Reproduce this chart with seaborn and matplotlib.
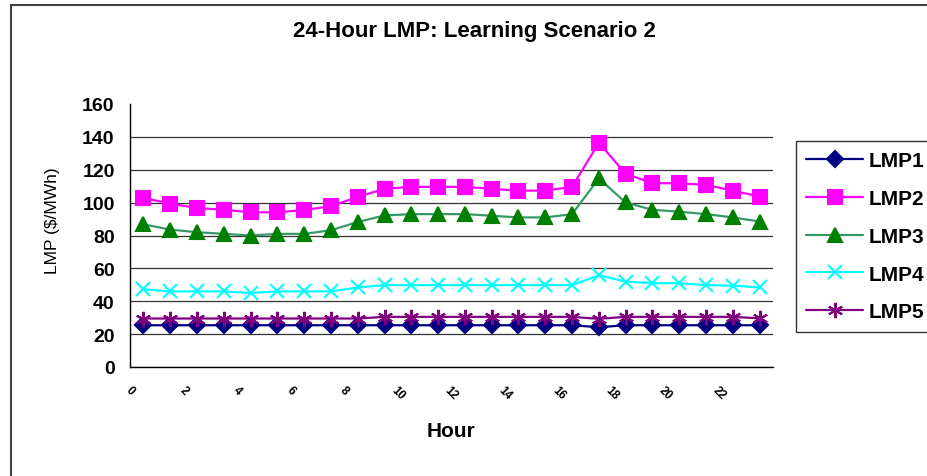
import numpy as np
import matplotlib
matplotlib.use("Agg")
import matplotlib.pyplot as plt
from matplotlib.patches import Rectangle
import seaborn as sns

sns.set_style("white")
plt.rcParams['font.family'] = ['Liberation Sans', 'DejaVu Sans']
plt.rcParams['text.color'] = 'black'
plt.rcParams['axes.labelcolor'] = 'black'
plt.rcParams['xtick.color'] = 'black'
plt.rcParams['ytick.color'] = 'black'

# Hourly LMP values
hours = np.arange(24)
lmp1 = [25.4] * 17 + [24.2] + [25.4] * 6
lmp2 = [102.9, 99.4, 96.7, 95.7, 94.1, 94.1, 95.5, 97.8, 103.5, 108.4, 109.6, 109.6,
        109.6, 108.4, 107.3, 107.3, 109.6, 136.4, 117.6, 111.8, 111.8, 110.8, 107.3, 103.7]
lmp3 = [86.8, 83.6, 82.0, 81.0, 80.0, 81.0, 81.0, 83.2, 88.2, 92.2, 93.0, 93.0,
        93.0, 92.0, 91.0, 91.0, 93.0, 114.7, 100.1, 95.6, 94.5, 93.0, 91.0, 88.5]
lmp4 = [47.3, 46.0, 46.0, 46.0, 45.0, 46.0, 46.0, 46.0, 48.4, 49.8, 49.8, 49.8,
        49.8, 49.8, 49.8, 49.8, 49.8, 55.8, 52.0, 51.0, 51.0, 49.8, 49.5, 48.4]
lmp5 = [29.5] * 9 + [30.5] * 8 + [29.3] + [30.5] * 5 + [29.6]

series = [
    # name, values, line colour, marker, marker colour, marker size
    ("LMP1", lmp1, "#000080", "D", "#000080", 8.5),
    ("LMP2", lmp2, "#FF00FF", "s", "#FF00FF", 10),
    ("LMP3", lmp3, "#339966", "^", "#008000", 10),
    ("LMP4", lmp4, "#00FFFF", "x", "#00FFFF", 10),
    ("LMP5", lmp5, "#800080", (6, 2, 0), "#800080", 11),
]

W, H = 927, 477
fig = plt.figure(figsize=(W / 100, H / 100), dpi=100)
ax = fig.add_axes([130 / W, 1 - 368 / H, (773 - 130) / W, (368 - 105) / H])

# points sit in the middle of each hour slot (Excel category axis)
xpos = hours + 0.5
for name, vals, col, mk, mcol, ms in series:
    sns.lineplot(x=xpos, y=vals, ax=ax, color=col, linewidth=1.6, marker=mk,
                 markersize=ms, markerfacecolor=mcol, markeredgecolor=mcol,
                 markeredgewidth=1.5, label=name)

ax.set_xlim(0, 24)
ax.set_ylim(0, 160)
ax.set_yticks(np.arange(0, 161, 20))
ax.set_yticklabels([str(v) for v in range(0, 161, 20)], fontsize=14, fontweight='bold')
ticks = np.arange(0, 25)
ax.set_xticks(ticks)
ax.set_xticklabels([str(t) if (t % 2 == 0 and t <= 22) else "" for t in ticks],
                   fontsize=8.5, fontweight='bold', rotation=-45, ha='center')
ax.tick_params(axis='both', direction='out', length=5, width=1, color='black')
ax.tick_params(axis='y', pad=6)
ax.tick_params(axis='x', pad=7)

ax.yaxis.grid(True, color='#333333', linewidth=0.9)
ax.get_ygridlines()[-1].set_visible(False)
ax.xaxis.grid(False)
sns.despine(ax=ax)
for side in ['left', 'bottom']:
    ax.spines[side].set_color('black')
    ax.spines[side].set_linewidth(1)

ax.set_xlabel("Hour", fontsize=15, fontweight='bold', labelpad=14)
ax.set_ylabel("")
fig.text(52 / W, 1 - 221 / H, "LMP ($/MWh)", rotation=90, fontsize=12.5,
         ha='center', va='center')
fig.text(474 / W, 1 - 32 / H, "24-Hour LMP: Learning Scenario 2", fontsize=16,
         fontweight='bold', ha='center', va='center')

ax.legend_.remove()
handles, labels = ax.get_legend_handles_labels()
leg = fig.legend(handles, labels, loc='upper left', bbox_to_anchor=(796 / W, 1 - 142 / H),
                 bbox_transform=fig.transFigure, frameon=True, fancybox=False,
                 edgecolor='black', prop={'size': 15, 'weight': 'bold'},
                 handlelength=2.7, handletextpad=0.3, labelspacing=0.9,
                 borderpad=0.5, borderaxespad=0)
leg.get_frame().set_linewidth(1)

# chart-area border, clipped at right and bottom as in the reference
fig.add_artist(Rectangle((11 / W, -0.1), 1.2, 1.1 - 6 / H, transform=fig.transFigure,
                         fill=False, edgecolor='#404040', linewidth=1.5))

fig.savefig("out.png", dpi=100)
